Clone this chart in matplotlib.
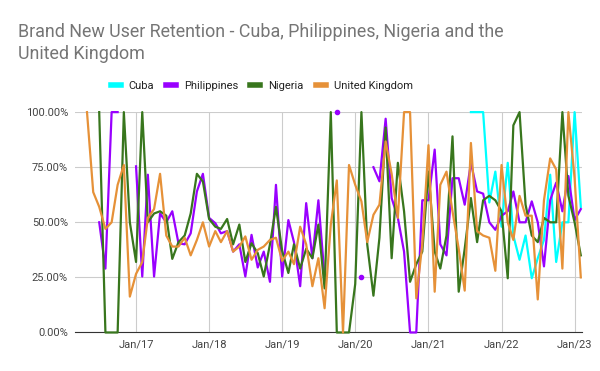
import numpy as np
import pandas as pd
import matplotlib
matplotlib.use("Agg")
import matplotlib.pyplot as plt
import matplotlib.dates as mdates
from matplotlib.ticker import FuncFormatter

plt.rcParams['font.family'] = ['Roboto', 'DejaVu Sans']

# monthly, May 2016 .. Feb 2023 (values clamped to the 0-100% view window)
months = pd.date_range('2016-05-01', '2023-02-01', freq='MS')
nan = np.nan

uk = [1.0, 0.637, 0.57, 0.47, 0.50, 0.67, 0.76, 0.163,
      0.266, 0.32, 0.52, 0.56, 0.72, 0.44, 0.39, 0.39, 0.43, 0.35, 0.42, 0.50,
      0.39, 0.46, 0.41, 0.46, 0.367, 0.39, 0.436, 0.33, 0.375, 0.39, 0.42, 0.43,
      0.325, 0.367, 0.31, 0.48, 0.40, 0.21, 0.337, 0.11, 0.49, 0.69, 0.0, 0.76,
      0.67, 0.595, 0.41, 0.534, 0.58, 0.867, 0.72, 0.52, 1.0, 1.0, 0.155, 0.40,
      0.85, 0.185, 0.67, 0.73, 0.55, 0.38, 0.19, 0.86, 0.46, 0.44, 0.43, 0.28,
      0.76, 0.50, 0.42, 0.62, 0.53, 0.53, 0.15, 0.60, 0.79, 0.74, 0.29, 1.0,
      0.70, 0.25]

philippines = [nan, nan, 0.50, 0.29, 1.0, 1.0, nan, nan,
               0.754, 0.254, 0.716, 0.254, 0.54, 0.50, 0.55, 0.405, 0.40, 0.45, 0.64, 0.72,
               0.52, 0.496, 0.45, 0.46, 0.367, 0.40, 0.254, 0.443, 0.295, 0.367, 0.23, 0.67,
               0.254, 0.51, 0.41, 0.21, 0.587, 0.337, 0.60, 0.25, nan, 1.0, nan, nan,
               nan, 0.25, nan, 0.75, 0.686, 0.97, 0.61, 0.52, 0.367, 0.0, 0.0, 0.60,
               0.60, 0.83, 0.40, 0.35, 0.70, 0.70, 0.58, 0.77, 0.64, 0.63, 0.50, 0.466,
               0.53, 0.55, 0.64, 0.50, 0.50, 0.595, 0.50, 0.30, 0.60, 0.68, 0.55, 0.71,
               0.51, 0.56]

nigeria = [nan, nan, 1.0, 0.0, 0.0, 0.0, 1.0, 0.50,
           0.32, 1.0, 0.50, 0.54, 0.55, 0.53, 0.334, 0.41, 0.44, 0.54, 0.72, 0.685,
           0.515, 0.48, 0.47, 0.515, 0.40, 0.49, 0.32, 0.405, 0.36, 0.254, 0.40, 0.57,
           0.37, 0.27, 0.40, 0.29, 0.38, 0.337, 0.49, 0.20, 1.0, 0.0, 0.0, 0.0,
           0.22, 1.0, 0.40, 0.167, 0.43, 0.93, 0.337, 0.77, 0.55, 0.23, 0.31, 0.367,
           0.73, 0.367, 0.29, 0.44, 0.89, 0.185, 0.38, 0.61, 0.41, 0.60, 0.62, 0.60,
           0.55, 0.246, 0.94, 1.0, 0.58, 0.44, 0.41, 0.52, 0.50, 0.50, 1.0, 0.62,
           0.50, 0.35]

cuba = [nan] * 63 + [1.0, 1.0, 1.0, 0.59, 0.73, 0.48, 0.77, 0.44, 0.33, 0.44,
                     0.246, 0.337, 0.42, 0.716, 0.32, 0.50, 0.50, 1.0, 0.57]

series = [('Cuba', cuba, '#00ffff'),
          ('Philippines', philippines, '#9900ff'),
          ('Nigeria', nigeria, '#38761d'),
          ('United Kingdom', uk, '#e69138')]

fig = plt.figure(figsize=(6, 3.71), dpi=100)
ax = fig.add_axes([0.125, 0.1038, 0.845, 0.594])

for name, vals, col in series:
    y = np.array(vals, dtype=float)
    ax.plot(months, y, color=col, lw=1.6, label=name, clip_on=False, zorder=3)
    # points with no neighbours get drawn as dots
    prev = np.r_[nan, y[:-1]]
    nxt = np.r_[y[1:], nan]
    lone = ~np.isnan(y) & np.isnan(prev) & np.isnan(nxt)
    if lone.any():
        ax.plot(months[lone], y[lone], 'o', color=col, ms=3, clip_on=False, zorder=3)

ax.set_ylim(0, 1)
ax.set_yticks([0, 0.25, 0.5, 0.75, 1.0])
ax.yaxis.set_major_formatter(FuncFormatter(lambda v, p: '%.2f%%' % (v * 100)))
ax.set_xlim(pd.Timestamp('2016-03-02'), pd.Timestamp('2023-02-07'))
ax.xaxis.set_major_locator(mdates.YearLocator())
ax.xaxis.set_major_formatter(mdates.DateFormatter('%b/%y'))

ax.grid(True, color='#cccccc', lw=0.8, zorder=0)
for s in ['top', 'right', 'left']:
    ax.spines[s].set_visible(False)
ax.spines['bottom'].set_color('#333333')
ax.tick_params(length=0, labelsize=8, colors='#444444', pad=5)

fig.text(0.03, 0.938, 'Brand New User Retention - Cuba, Philippines, Nigeria and the\nUnited Kingdom',
         fontsize=12.9, color='#757575', va='top', ha='left', linespacing=1.32)

leg = fig.legend(loc='center', bbox_to_anchor=(0.436, 0.768), ncol=4, frameon=False,
                 fontsize=8, handlelength=0.9, handletextpad=0.7, columnspacing=1.1)
for h in leg.legend_handles:
    h.set_linewidth(4)
for t in leg.get_texts():
    t.set_color('#222222')

fig.savefig('out.png', dpi=100)
